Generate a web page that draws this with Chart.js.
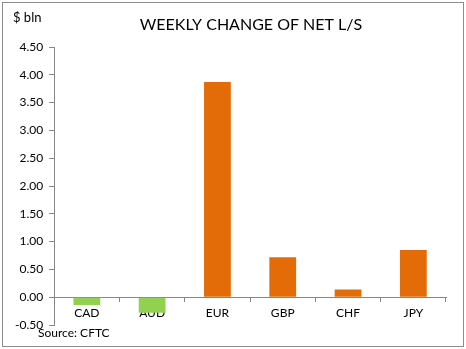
<!DOCTYPE html>
<html>
<head>
<meta charset="utf-8">
<script src="https://cdn.jsdelivr.net/npm/chart.js@4"></script>
<style>
  body { margin: 0; background: #fff; }
  #wrap { position: absolute; left: 2px; top: 2px; width: 460px; height: 343px; border: 1px solid #8c8c8c; }
  canvas { display: block; }
</style>
</head>
<body>
<div id="wrap"><canvas id="chart" width="460" height="343"></canvas></div>
<script>
// ── Data ───────────────────────────────────────
const currencies = ['CAD', 'AUD', 'EUR', 'GBP', 'CHF', 'JPY'];
const netChange = [-0.14, -0.28, 3.87, 0.72, 0.14, 0.85];
const yTicks = [-0.5, 0, 0.5, 1, 1.5, 2, 2.5, 3, 3.5, 4, 4.5];

const FONT = 'Lato, "Open Sans", sans-serif';

// ── Text around the plot: unit, title, source ──
const chartTexts = {
    id: 'chartTexts',
    afterDraw(chart) {
        const ctx = chart.ctx;
        ctx.save();
        ctx.fillStyle = '#000';
        ctx.textBaseline = 'middle';

        ctx.font = '13px ' + FONT;
        ctx.textAlign = 'left';
        ctx.fillText('$ bln', 10, 15);

        ctx.font = '16px ' + FONT;
        ctx.textAlign = 'center';
        ctx.fillText('WEEKLY CHANGE OF NET L/S', 248, 22);

        ctx.font = '12px ' + FONT;
        ctx.textAlign = 'left';
        ctx.fillText('Source: CFTC', 35, 330);
        ctx.restore();
    }
};

new Chart(document.getElementById('chart'), {
    type: 'bar',
    data: {
        labels: currencies,
        datasets: [{
            data: netChange,
            backgroundColor: netChange.map(v => v < 0 ? '#92d050' : '#e36c09'),
            categoryPercentage: 1,
            barPercentage: 0.41
        }]
    },
    options: {
        responsive: false,
        animation: false,
        layout: { padding: { left: 6, right: 17, top: 44, bottom: 21 } },
        plugins: {
            legend: { display: false },
            tooltip: { enabled: false },
            title: { display: false }
        },
        scales: {
            x: {
                position: { y: 0 },
                z: 1, // labels and axis line sit on top of the bars
                grid: { offset: true, drawOnChartArea: false, tickLength: 4, color: '#868686' },
                border: { color: '#868686' },
                ticks: { color: '#000', font: { family: FONT, size: 12 }, padding: 5 }
            },
            y: {
                min: -0.5,
                max: 4.5,
                afterBuildTicks: axis => { axis.ticks = yTicks.map(v => ({ value: v })); },
                grid: { drawOnChartArea: false, tickLength: 5, color: '#868686' },
                border: { color: '#868686' },
                ticks: {
                    color: '#000',
                    font: { family: FONT, size: 12 },
                    padding: 6,
                    callback: v => v.toFixed(2)
                }
            }
        }
    },
    plugins: [chartTexts]
});
</script>
</body>
</html>
